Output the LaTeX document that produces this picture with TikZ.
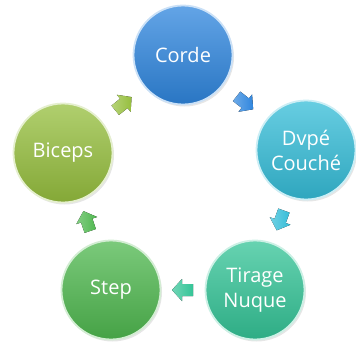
\documentclass[tikz,border=0pt]{standalone}
\usepackage{fontspec}
\setmainfont{Open Sans}
\usetikzlibrary{calc,shadows}

\definecolor{cordecol}{HTML}{2F86DE}
\definecolor{dvpecol}{HTML}{35BDD8}
\definecolor{tiragecol}{HTML}{34C497}
\definecolor{stepcol}{HTML}{4FB84F}
\definecolor{bicepscol}{HTML}{96BF3E}

\begin{document}
\begin{tikzpicture}[x=1pt,y=-1pt,
    station/.style={circle, minimum size=99pt, inner sep=0pt, align=center,
        text=white, font=\fontsize{20}{25}\selectfont,
        top color=#1!75!white, bottom color=#1!88!black,
        draw=#1!25!white, line width=1.8pt,
        drop shadow={shadow xshift=1.5pt, shadow yshift=-2pt, opacity=0.2}},
    cyclearrow/.style={left color=#1!70!white, right color=#1, draw=none}]
            \useasboundingbox (0,0) rectangle (356,343);

            % Draw the stations of the cycle
            \node[station=cordecol] (corde) at (183,55) {Corde};
            \node[station=dvpecol] (dvpe) at (306,150) {Dvpé\\Couché};
            \node[station=tiragecol] (tirage) at (255,290) {Tirage\\Nuque};
            \node[station=stepcol] (step) at (111,290) {Step};
            \node[station=bicepscol] (biceps) at (63,153) {Biceps};

            % Draw the arrows between the stations
            \foreach \from/\to/\col/\ang in {corde/dvpe/cordecol/-38, dvpe/tirage/dvpecol/-110, tirage/step/tiragecol/180, step/biceps/stepcol/109, biceps/corde/bicepscol/39} {
                \begin{scope}[shift={($(\from)!0.5!(\to)$)}, rotate=\ang]
                    \fill[cyclearrow=\col] (-10,-6) -- (1,-6) -- (1,-11) -- (11,0) -- (1,11) -- (1,6) -- (-10,6) -- cycle;
                \end{scope}
            }
        \end{tikzpicture}
\end{document}
